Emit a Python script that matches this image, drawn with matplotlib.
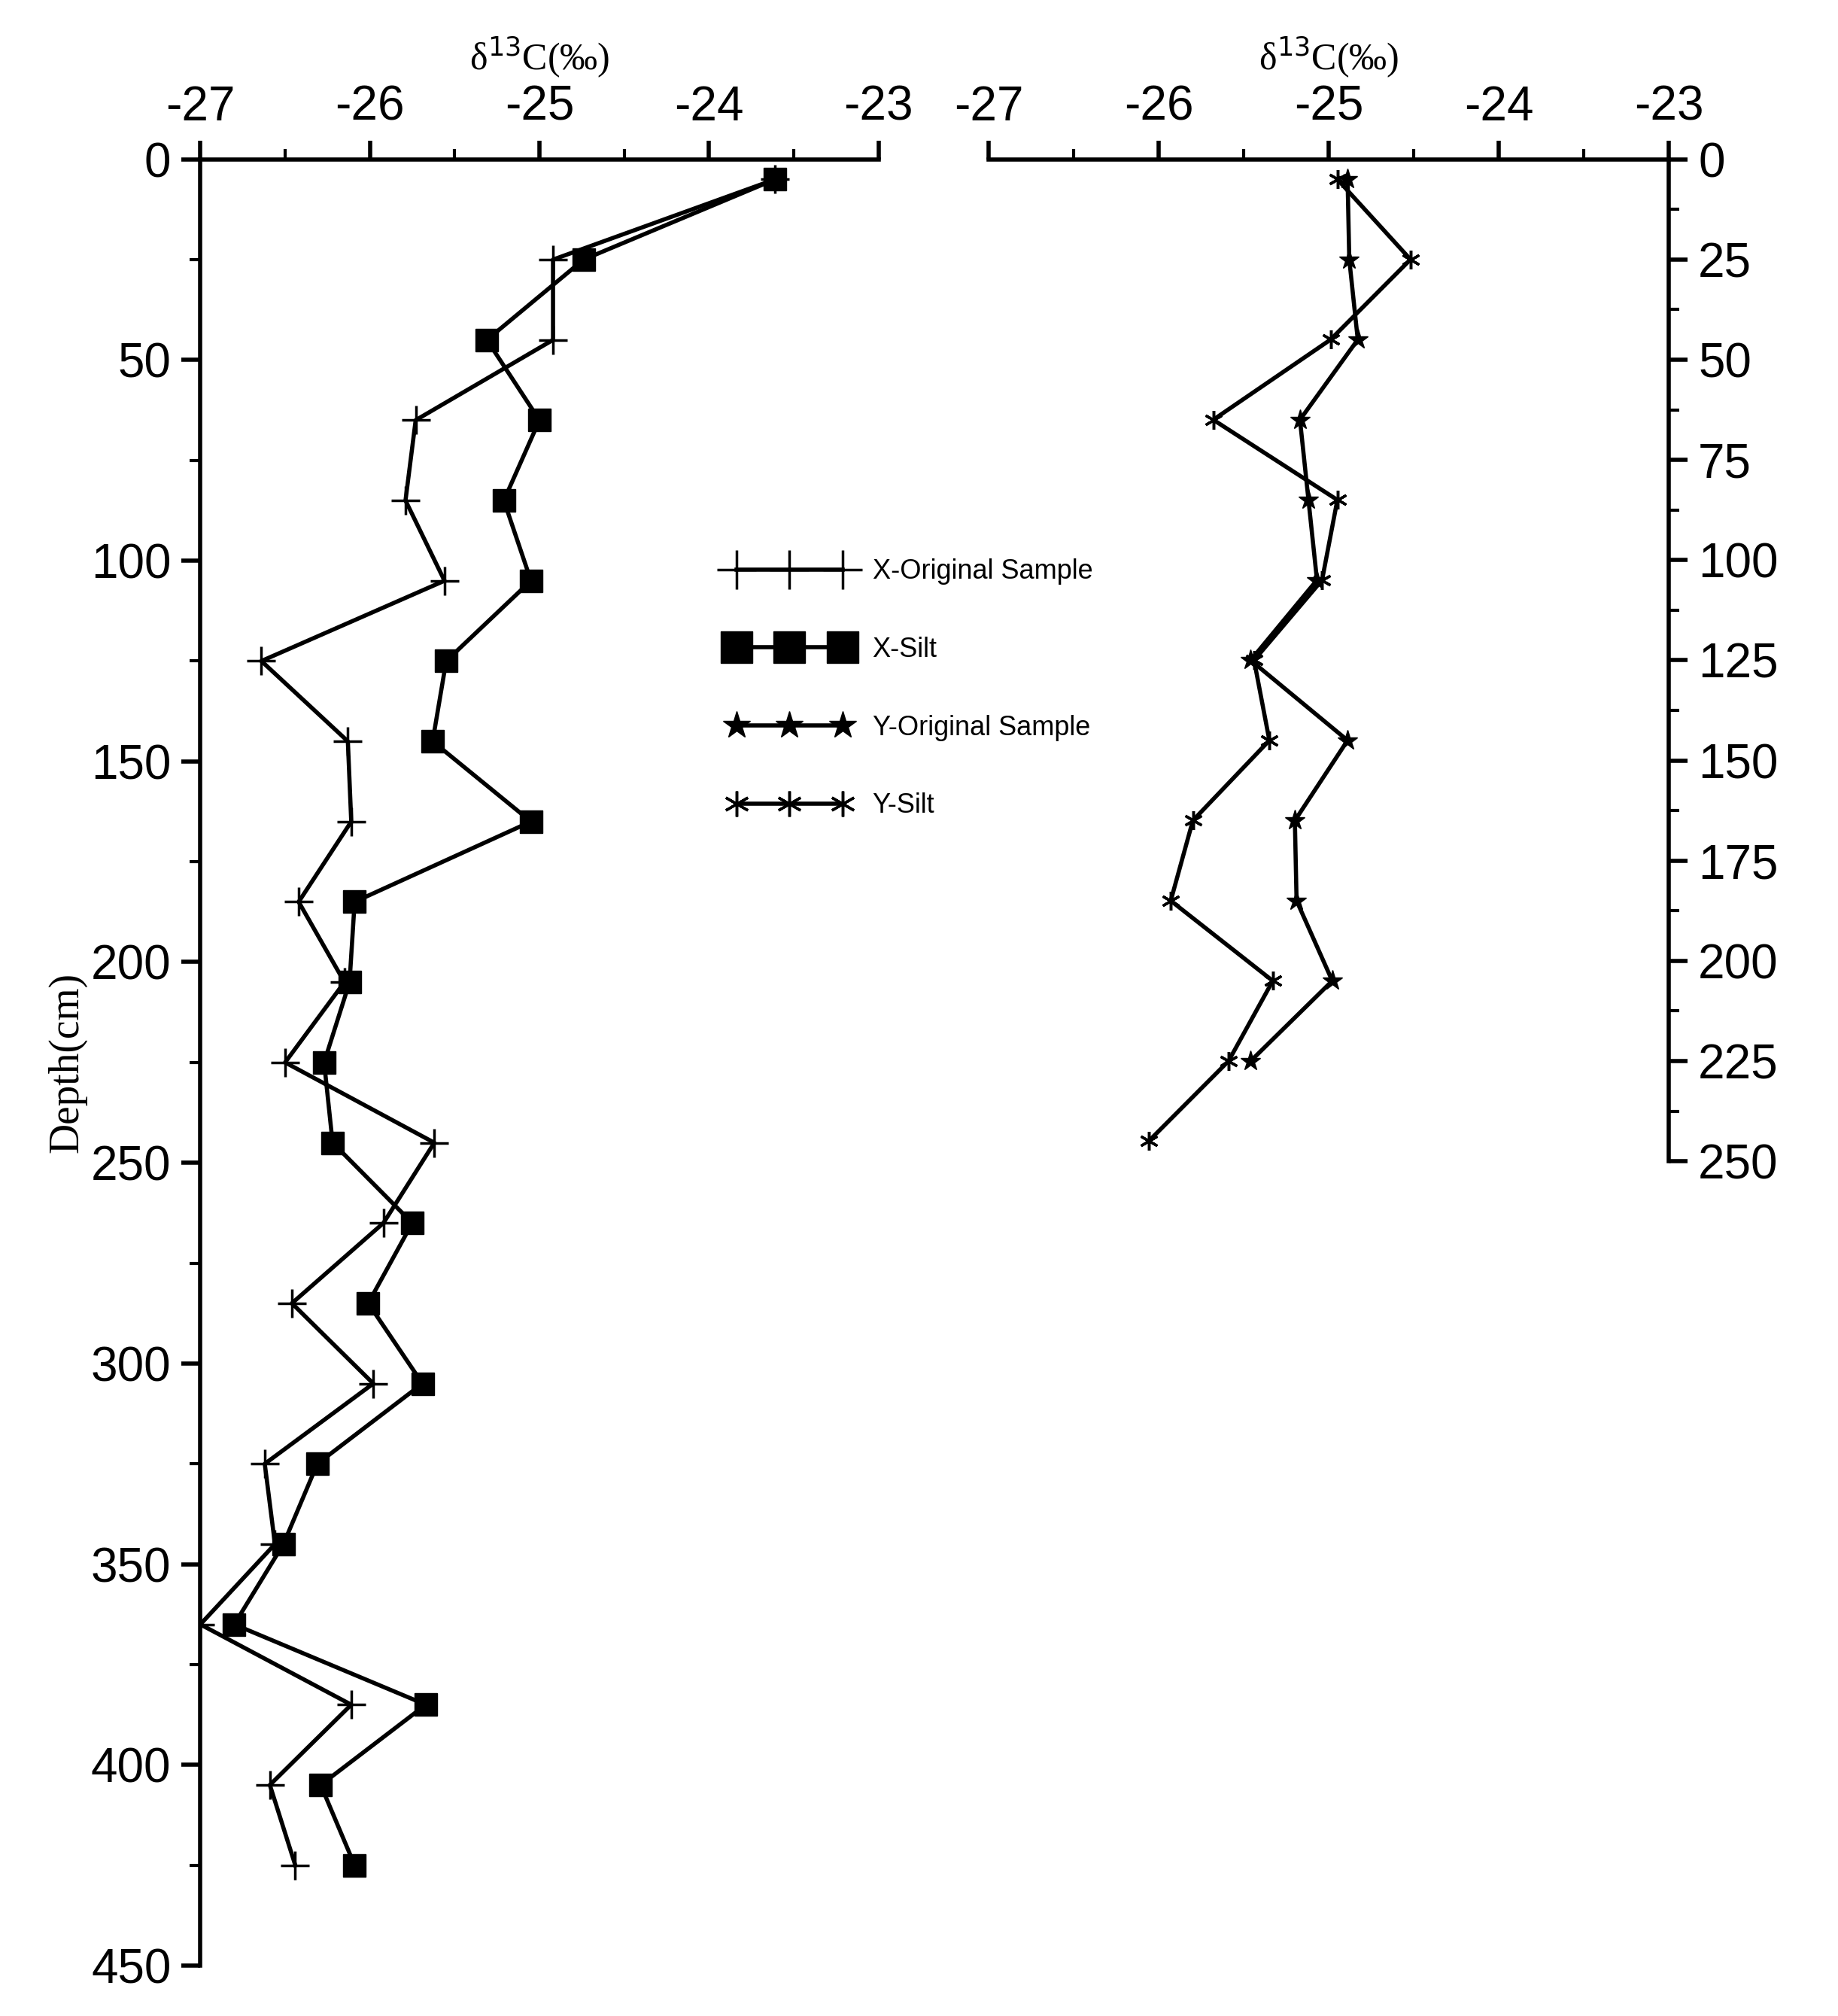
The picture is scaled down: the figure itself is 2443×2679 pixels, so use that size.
import matplotlib
matplotlib.use("Agg")
import matplotlib.pyplot as plt
from matplotlib.ticker import MultipleLocator
plt.rcParams['axes.unicode_minus'] = False
plt.rcParams['font.family'] = ['Liberation Sans', 'DejaVu Sans']

depth_x = [5,25,45,65,85,105,125,145,165,185,205,225,245,265,285,305,325,345,365,385,405,425]
x_orig = [-23.61,-24.92,-24.92,-25.73,-25.79,-25.56,-26.64,-26.13,-26.11,-26.42,-26.15,-26.50,
          -25.62,-25.92,-26.46,-25.98,-26.62,-26.56,-27.0,-26.11,-26.59,-26.44]
x_silt = [-23.61,-24.74,-25.31,-25.00,-25.21,-25.05,-25.55,-25.63,-25.05,-26.09,-26.12,-26.27,
          -26.22,-25.75,-26.01,-25.69,-26.31,-26.51,-26.80,-25.67,-26.29,-26.09]
depth_yo = [5,25,45,65,85,105,125,145,165,185,205,225]
y_orig = [-24.89,-24.88,-24.83,-25.17,-25.12,-25.07,-25.46,-24.89,-25.20,-25.19,-24.98,-25.46]
depth_ys = [5,25,45,65,85,105,125,145,165,185,205,225,245]
y_silt = [-24.95,-24.52,-24.99,-25.68,-24.95,-25.04,-25.44,-25.35,-25.80,-25.93,-25.33,-25.59,-26.06]

fig = plt.figure(figsize=(24.43, 26.79), dpi=100)
ax1 = fig.add_axes([0.109, 0.025, 0.369, 0.896])
ax2 = fig.add_axes([0.538, 0.424, 0.370, 0.497])

tfs = 46
serif = ["Liberation Serif", "DejaVu Serif"]

l1, = ax1.plot(x_orig, depth_x, 'k-', marker='+', ms=28, mew=2.5, lw=4, label='X-Original Sample')
l2, = ax1.plot(x_silt, depth_x, 'k-', marker='s', ms=22, lw=4, label='X-Silt')
l3, = ax2.plot(y_orig, depth_yo, 'k-', marker='*', ms=20, lw=4, label='Y-Original Sample')
l4, = ax2.plot(y_silt, depth_ys, 'k-', marker=(6, 2, 0), ms=18, mew=2.5, lw=4, label='Y-Silt')

for ax, ymax in ((ax1, 450), (ax2, 250)):
    ax.set_xlim(-27, -23)
    ax.set_ylim(ymax, 0)
    ax.xaxis.set_major_locator(MultipleLocator(1))
    ax.xaxis.set_minor_locator(MultipleLocator(0.5))
    ax.xaxis.tick_top()
    ax.set_xlabel("δ$^{13}$C(‰)", fontsize=36, family=serif, labelpad=14)
    ax.xaxis.set_label_position('top')
    ax.spines['bottom'].set_visible(False)
    ax.tick_params(labelsize=tfs, width=4, length=18, which='major', pad=10)
    ax.tick_params(width=3, length=10, which='minor')
    for s in ax.spines.values():
        s.set_linewidth(4)

ax1.spines['right'].set_visible(False)
ax1.yaxis.set_major_locator(MultipleLocator(50))
ax1.yaxis.set_minor_locator(MultipleLocator(25))
ax1.set_ylabel("Depth(cm)", fontsize=40, family=serif, labelpad=4)

ax2.spines['left'].set_visible(False)
ax2.yaxis.tick_right()
ax2.yaxis.set_major_locator(MultipleLocator(25))
ax2.yaxis.set_minor_locator(MultipleLocator(12.5))

fig.legend(handles=[l1, l2, l3, l4], loc='upper left', bbox_to_anchor=(0.383, 0.735),
           frameon=False, fontsize=26, labelspacing=1.9, handlelength=4.5, numpoints=3,
           markerscale=1.35)

fig.savefig("out.png", dpi=100)
